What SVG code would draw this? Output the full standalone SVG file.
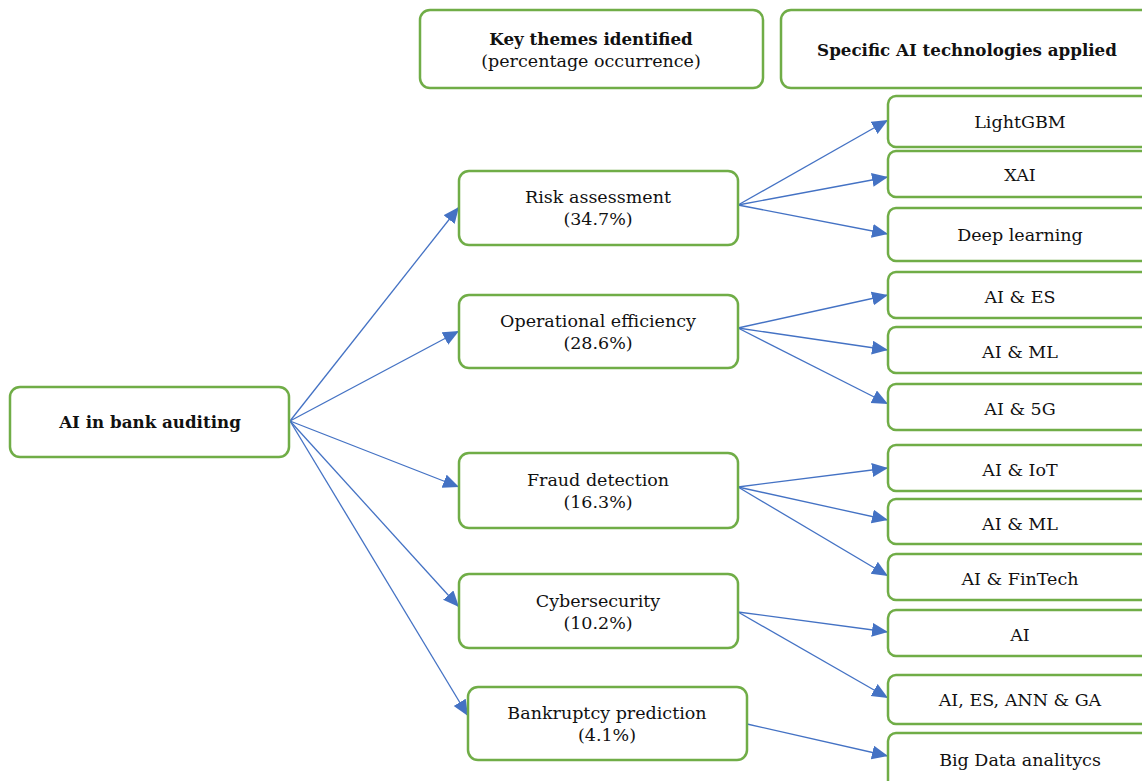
<svg xmlns="http://www.w3.org/2000/svg" width="1142" height="781" viewBox="0 0 1142 781">
<style>
.box{fill:#fff;stroke:#70AD47;stroke-width:2.5}
.t{font-family:"DejaVu Serif","Liberation Serif",serif;font-size:17.5px;fill:#111;text-anchor:middle}
.b{font-weight:bold;font-size:16.7px}
.c line{stroke:#4472C4;stroke-width:1.3;marker-end:url(#ah)}
</style>
<defs>
<marker id="ah" markerUnits="userSpaceOnUse" markerWidth="17" markerHeight="15" refX="16" refY="7" orient="auto">
<path d="M0,0 L16,7 L0,14 z" fill="#4472C4"/>
</marker>
</defs>
<rect width="1142" height="781" fill="#fff"/>
<g id="connectors" class="c">
<line x1="290" y1="421" x2="459" y2="207"/>
<line x1="290" y1="421" x2="459" y2="331"/>
<line x1="290" y1="421" x2="459" y2="487"/>
<line x1="290" y1="421" x2="459" y2="607"/>
<line x1="290" y1="421" x2="468" y2="716"/>
<line x1="738" y1="205" x2="888" y2="120"/>
<line x1="738" y1="205" x2="888" y2="177"/>
<line x1="738" y1="205" x2="888" y2="234"/>
<line x1="738" y1="328" x2="888" y2="295"/>
<line x1="738" y1="328" x2="888" y2="350"/>
<line x1="738" y1="328" x2="888" y2="404"/>
<line x1="738" y1="487" x2="888" y2="468"/>
<line x1="738" y1="487" x2="888" y2="520"/>
<line x1="738" y1="487" x2="888" y2="576"/>
<line x1="738" y1="612" x2="888" y2="632"/>
<line x1="738" y1="612" x2="888" y2="698"/>
<line x1="747" y1="724" x2="888" y2="756"/>
</g>
<g id="root"><rect class="box" x="10" y="387" width="279" height="70" rx="10"/><text class="t b" x="150" y="428">AI in bank auditing</text></g>
<g id="header-themes"><rect class="box" x="420" y="10" width="343" height="78" rx="10"/><text class="t b" x="591" y="45">Key themes identified</text><text class="t" x="591" y="67">(percentage occurrence)</text></g>
<g id="header-tech"><rect class="box" x="781" y="10" width="380" height="78" rx="10"/><text class="t b" x="967" y="56">Specific AI technologies applied</text></g>
<g id="risk"><rect class="box" x="459" y="171" width="279" height="74" rx="10"/><text class="t" x="598" y="203">Risk assessment</text><text class="t" x="598" y="225">(34.7%)</text></g>
<g id="operational"><rect class="box" x="459" y="295" width="279" height="73" rx="10"/><text class="t" x="598" y="327">Operational efficiency</text><text class="t" x="598" y="349">(28.6%)</text></g>
<g id="fraud"><rect class="box" x="459" y="453" width="279" height="75" rx="10"/><text class="t" x="598" y="486">Fraud detection</text><text class="t" x="598" y="508">(16.3%)</text></g>
<g id="cyber"><rect class="box" x="459" y="574" width="279" height="74" rx="10"/><text class="t" x="598" y="607">Cybersecurity</text><text class="t" x="598" y="629">(10.2%)</text></g>
<g id="bankruptcy"><rect class="box" x="468" y="687" width="279" height="73" rx="10"/><text class="t" x="607" y="719">Bankruptcy prediction</text><text class="t" x="607" y="741">(4.1%)</text></g>
<g id="lightgbm"><rect class="box" x="888" y="96" width="270" height="51" rx="8"/><text class="t" x="1020" y="128">LightGBM</text></g>
<g id="xai"><rect class="box" x="888" y="151" width="270" height="46" rx="8"/><text class="t" x="1020" y="181">XAI</text></g>
<g id="deep"><rect class="box" x="888" y="208" width="270" height="53" rx="8"/><text class="t" x="1020" y="241">Deep learning</text></g>
<g id="ai-es"><rect class="box" x="888" y="272" width="270" height="46" rx="8"/><text class="t" x="1020" y="303">AI &amp; ES</text></g>
<g id="ai-ml-1"><rect class="box" x="888" y="327" width="270" height="46" rx="8"/><text class="t" x="1020" y="358">AI &amp; ML</text></g>
<g id="ai-5g"><rect class="box" x="888" y="384" width="270" height="46" rx="8"/><text class="t" x="1020" y="415">AI &amp; 5G</text></g>
<g id="ai-iot"><rect class="box" x="888" y="445" width="270" height="46" rx="8"/><text class="t" x="1020" y="476">AI &amp; IoT</text></g>
<g id="ai-ml-2"><rect class="box" x="888" y="499" width="270" height="45" rx="8"/><text class="t" x="1020" y="530">AI &amp; ML</text></g>
<g id="ai-fintech"><rect class="box" x="888" y="554" width="270" height="46" rx="8"/><text class="t" x="1020" y="585">AI &amp; FinTech</text></g>
<g id="ai"><rect class="box" x="888" y="610" width="270" height="46" rx="8"/><text class="t" x="1020" y="641">AI</text></g>
<g id="ai-es-ann-ga"><rect class="box" x="888" y="675" width="270" height="49" rx="8"/><text class="t" x="1020" y="706">AI, ES, ANN &amp; GA</text></g>
<g id="bigdata"><rect class="box" x="888" y="733" width="270" height="60" rx="8"/><text class="t" x="1020" y="766">Big Data analitycs</text></g>
</svg>
